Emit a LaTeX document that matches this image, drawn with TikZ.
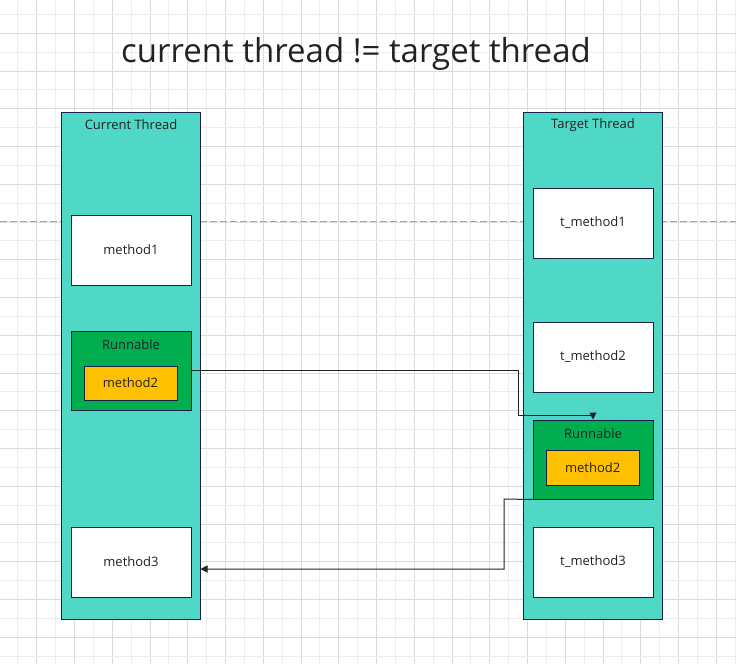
\documentclass[tikz,border=0pt]{standalone}
\usepackage{fontspec}
\setmainfont{Open Sans}
\usetikzlibrary{arrows.meta}
\definecolor{turq}{HTML}{4FD8C5}
\definecolor{rgreen}{HTML}{00AE50}
\definecolor{morange}{HTML}{FFC000}
\definecolor{navy}{HTML}{1B1F4B}
\definecolor{gmajor}{HTML}{DADADA}
\definecolor{gminor}{HTML}{EDEDED}
\definecolor{txt}{HTML}{222222}
\tikzset{
  thread/.style={draw=navy, fill=turq, line width=1pt, minimum width=139pt, minimum height=507pt, inner sep=0pt},
  mbox/.style={draw=navy, fill=white, line width=1pt, minimum width=120pt, minimum height=70pt, inner sep=0pt, font=\fontsize{13}{15}\selectfont, text=txt},
  runbox/.style={draw=navy, fill=rgreen, line width=1pt, minimum width=120pt, minimum height=79pt, inner sep=0pt},
  m2box/.style={draw=navy, fill=morange, line width=1pt, minimum width=93pt, minimum height=34pt, inner sep=0pt, font=\fontsize{13}{15}\selectfont, text=txt},
  lbl/.style={inner sep=0pt, font=\fontsize{13}{15}\selectfont, text=txt},
  conn/.style={draw=txt, line width=1pt, -{Triangle[length=7pt,width=7pt]}}
}
\begin{document}
\begin{tikzpicture}[x=1pt,y=-1pt]
\useasboundingbox (0,0) rectangle (736,664);
\fill[white] (0,0) rectangle (736,664);
% grid
\foreach \k in {0,...,19} {
  \draw[gminor, line width=1pt] ({-1+18.875+37.75*\k},0) -- ({-1+18.875+37.75*\k},664);
  \draw[gmajor, line width=1pt] ({-1+37.75*\k},0) -- ({-1+37.75*\k},664);
}
\foreach \k in {0,...,18} {
  \draw[gminor, line width=1pt] (0,{-4.45+18.875+37.75*\k}) -- (736,{-4.45+18.875+37.75*\k});
  \draw[gmajor, line width=1pt] (0,{-4.45+37.75*\k}) -- (736,{-4.45+37.75*\k});
}
\draw[color=black!35, line width=1pt, dash pattern=on 7pt off 3pt] (0,221) -- (736,221);
% title
\node[inner sep=0pt, font=\fontsize{33}{40}\selectfont, text=txt] (title) at (356,54) {current thread != target thread};
% left thread
\node[thread] (lt) at (130.5,365.5) {};
\node[lbl] (ltt) at (131,125) {Current Thread};
\node[mbox] (m1) at (131,250) {method1};
\node[runbox] (rl) at (131,370.5) {};
\node[lbl] (rlt) at (131,345) {Runnable};
\node[m2box] (m2l) at (130.5,383) {method2};
\node[mbox] (m3) at (131,562) {method3};
% right thread
\node[thread] (rt) at (592.5,365.5) {};
\node[lbl] (rtt) at (593,125) {Target Thread};
\node[mbox] (tm1) at (593,223) {t\_method1};
\node[mbox] (tm2) at (593,357) {t\_method2};
\node[runbox] (rr) at (593,459.5) {};
\node[lbl] (rrt) at (593,434) {Runnable};
\node[m2box, minimum height=35pt] (m2r) at (592.7,467.7) {method2};
\node[mbox] (tm3) at (593,562) {t\_method3};
% connectors
\draw[conn] (rl.east) -| (518,415) -| (rr.north);
\draw[conn] (rr.south west) -- (504,499) -- (504,569) -- ([yshift=-203.5pt]lt.east);
\end{tikzpicture}
\end{document}
